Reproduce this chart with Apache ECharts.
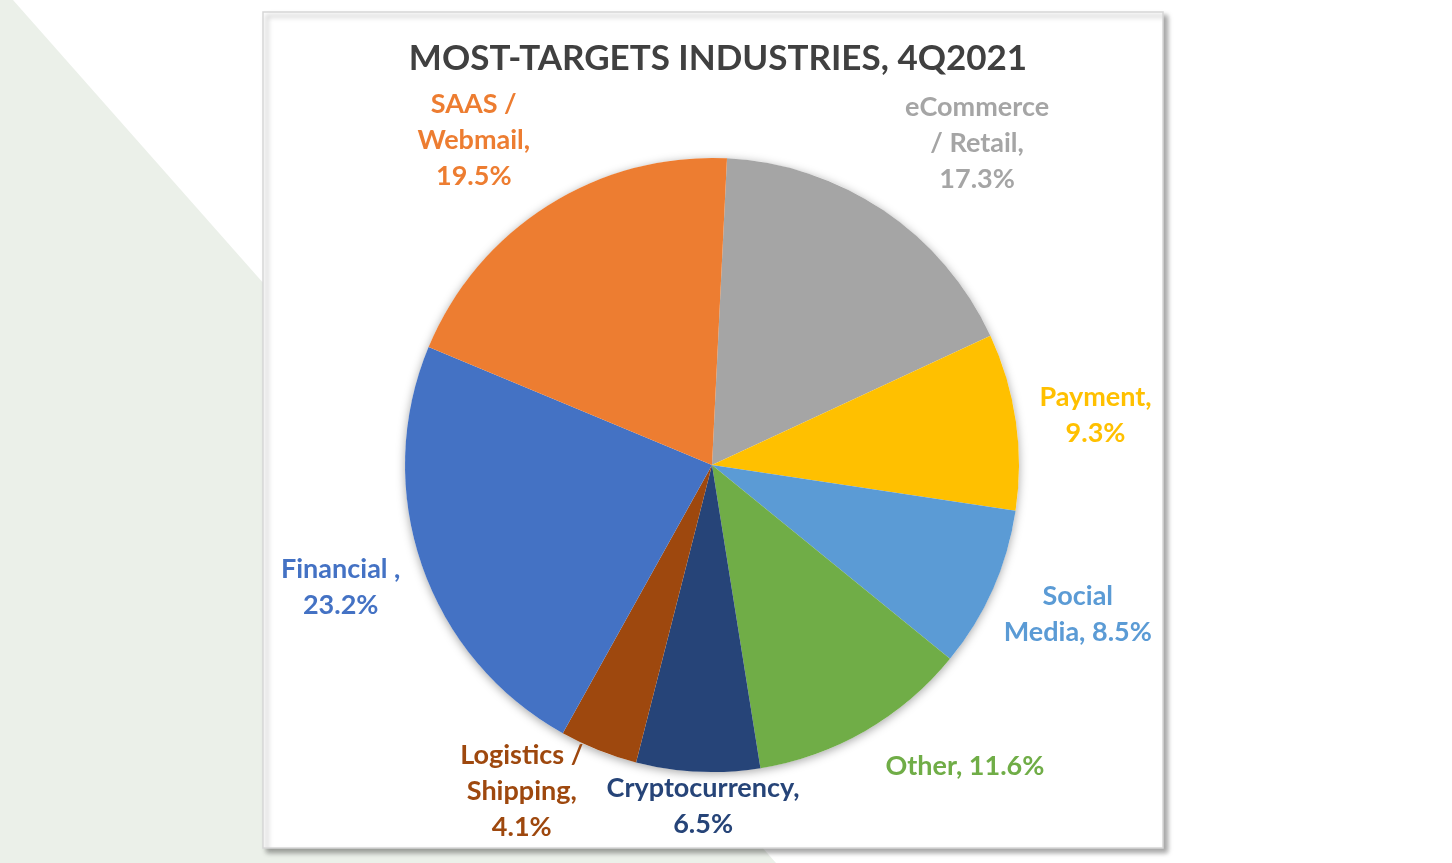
<!DOCTYPE html>
<html>
<head>
<meta charset="utf-8">
<title>Most-Targets Industries, 4Q2021</title>
<script src="https://cdn.jsdelivr.net/npm/echarts@6/dist/echarts.min.js"></script>
<style>
  html, body { margin: 0; padding: 0; background: #ffffff; }
  #tubiao1 { width: 1452px; height: 863px; }
</style>
</head>
<body>
<div id="tubiao1"></div>
<script>
// data, clockwise from 12 o'clock
var industries = ['eCommerce / Retail', 'Payment', 'Social Media', 'Other',
	'Cryptocurrency', 'Logistics / Shipping', 'Financial', 'SAAS / Webmail'];
var shares = [17.3, 9.3, 8.5, 11.6, 6.5, 4.1, 23.2, 19.5];
var labelTexts = [
	'eCommerce\n/ Retail,\n17.3%',
	'Payment,\n9.3%',
	'Social\nMedia, 8.5%',
	'Other, 11.6%',
	'Cryptocurrency,\n6.5%',
	'Logistics /\nShipping,\n4.1%',
	'Financial ,\n23.2%',
	'SAAS /\nWebmail,\n19.5%'
];
var sliceColors = ['#a5a5a5', '#ffc000', '#5b9bd5', '#70ad47', '#264478', '#9e480e', '#4472c4', '#ed7d31'];

document.addEventListener('DOMContentLoaded', showPieChart);

function showPieChart() {
	var myChart = echarts.init(document.getElementById('tubiao1'));

	// label nudges (the original labels were dragged a bit in Excel)
	var nudge = {
		'eCommerce / Retail': [40, 13],
		'Payment': [0, 5],
		'Social Media': [-7, -16],
		'Other': [67, -21],
		'Cryptocurrency': [7, -7],
		'Logistics / Shipping': [-47, -34],
		'Financial': [1, -7],
		'SAAS / Webmail': [-28, 8]
	};
	var padX = 20;   // extra room beside the text, like Excel's label box

	var pieData = [];
	for (var i = 0; i < industries.length; i++) {
		pieData.push({
			name: industries[i],
			value: shares[i],
			itemStyle: { color: sliceColors[i] },
			label: { color: sliceColors[i] }
		});
	}
	var total = 0;
	for (var k = 0; k < shares.length; k++) total += shares[k];

	var option = {
		animation: false,
		textStyle: { fontFamily: 'Lato, "Open Sans", sans-serif' },
		title: {
			text: 'MOST-TARGETS INDUSTRIES, 4Q2021',
			left: 713,
			textAlign: 'center',
			top: 36,
			textStyle: { fontSize: 35, fontWeight: 'bold', color: '#404040', fontFamily: 'Lato' }
		},
		graphic: [
			{   // pale green band of the slide behind the chart
				type: 'polygon', z: -10,
				shape: { points: [[0, 0], [13, 0], [776, 863], [0, 863]] },
				style: { fill: '#ebf0e9' }
			},
			{   // chart frame
				type: 'rect', z: -5,
				shape: { x: 263, y: 12, width: 900, height: 836 },
				style: {
					fill: '#ffffff', stroke: '#d6d6d6', lineWidth: 1.5,
					shadowBlur: 5, shadowOffsetX: 4, shadowOffsetY: 4, shadowColor: 'rgba(0,0,0,0.35)'
				}
			}
		],
		series: [
			{   // soft shadow under the whole pie
				type: 'pie',
				silent: true,
				z: 1,
				center: [712, 465],
				radius: 307,
				label: { show: false },
				labelLine: { show: false },
				itemStyle: { color: '#ffffff', shadowBlur: 10, shadowOffsetY: 2, shadowColor: 'rgba(0,0,0,0.35)' },
				data: [total]
			},
			{
				name: 'industries',
				type: 'pie',
				z: 2,
				center: [712, 465],
				radius: 307,
				startAngle: 87.2,
				clockwise: true,
				avoidLabelOverlap: false,
				data: pieData,
				label: {
					show: true,
					position: 'outside',
					formatter: function (p) { return labelTexts[p.dataIndex]; },
					fontSize: 27,
					lineHeight: 36,
					fontWeight: 'bold',
					fontFamily: 'Lato',
					distanceToLabelLine: 0
				},
				labelLine: {
					show: true,
					length: 10,
					length2: 0,
					lineStyle: { opacity: 0 }
				},
				labelLayout: function (p) {
					var pts = p.labelLinePoints;
					if (!pts) return {};
					var ex = pts[0][0], ey = pts[0][1];
					var vx = pts[1][0] - ex, vy = pts[1][1] - ey;
					var len = Math.sqrt(vx * vx + vy * vy) || 1;
					vx /= len; vy /= len;
					var w = p.labelRect.width, h = p.labelRect.height;
					var t = Math.abs(vx) * (w / 2 + padX) + Math.abs(vy) * h / 2;
					var n = nudge[industries[p.dataIndex]] || [0, 0];
					return {
						x: ex + vx * t + n[0],
						y: ey + vy * t + n[1],
						align: 'center',
						verticalAlign: 'middle'
					};
				}
			}
		]
	};
	myChart.setOption(option);
}
</script>
</body>
</html>
